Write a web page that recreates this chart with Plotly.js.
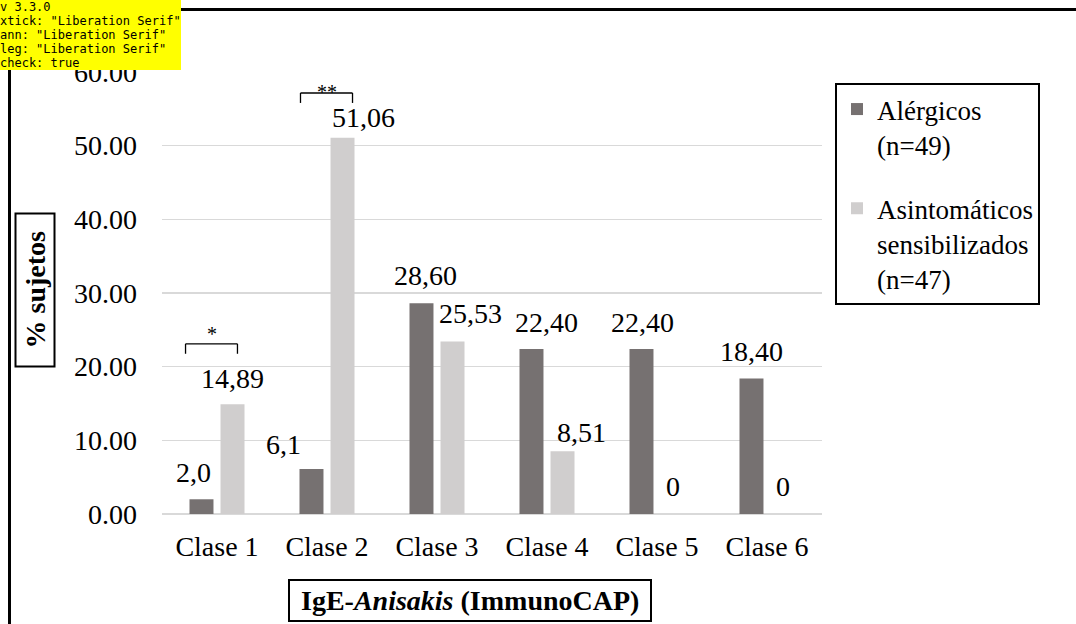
<!DOCTYPE html>
<html>
<head>
<meta charset="utf-8">
<script src="https://cdn.plot.ly/plotly-3.0.1.min.js"></script>
</head>
<body style="margin:0;background:#ffffff">
<div id="chart" style="width:1076px;height:624px"></div>
<div id="dbg" style="position:absolute;top:0;left:0;font:12px monospace;background:#ff0;white-space:pre"></div>
<script>
// ---------------- data ----------------
const categories = ['Clase 1', 'Clase 2', 'Clase 3', 'Clase 4', 'Clase 5', 'Clase 6'];
const seriesNames = ['Alérgicos<br>(n=49)', 'Asintomáticos<br>sensibilizados<br>(n=47)'];
const alergicos = [2.0, 6.1, 28.6, 22.4, 22.4, 18.4];
const asintomaticos = [14.89, 51.06, 23.4, 8.51, 0, 0];
const alergicosLabels = ['2,0', '6,1', '28,60', '22,40', '22,40', '18,40'];
const asintomaticosLabels = ['14,89', '51,06', '25,53', '8,51', '0', '0'];
const yTickVals = [0, 10, 20, 30, 40, 50, 60];
const sigCategories = ['Clase 1', 'Clase 2'];
const sigMarks = ['*', '**'];
const sigLevels = [23.1, 57.15];

const W = 1076, H = 624;
const M = { l: 162, r: 254, t: 72, b: 110 };
const PW = W - M.l - M.r, PH = H - M.t - M.b;
const FONT = 'Liberation Serif';
const DARK = '#767171', LIGHT = '#d0cece';
const barW = 0.218;
const darkOff = -0.25, lightOff = 0.032;
const darkCenter = darkOff + barW / 2, lightCenter = lightOff + barW / 2;
const darkLabelDx = [-8, -28, 4, 15, 1, 0];
const lightLabelDx = [0, 21, 18, 19, 0, 0];
const darkLabelDy = [27, 25, 28, 26, 26, 27];
const lightLabelDy = [26, 20, 28, 19, 28, 28];
const sigSpan = [[-0.286, 0.186], [-0.241, 0.232]];
const sigLeg = 1.35;
const sigTextDy = [10, 1];

const px2x = p => (p - M.l) / PW;
const px2y = p => (H - M.b - p) / PH;

const traces = [
  { type: 'bar', name: seriesNames[0], x: categories, y: alergicos, width: barW, offset: darkOff,
    marker: { color: DARK }, legendgroup: 'a' },
  { type: 'bar', name: seriesNames[1], x: categories, y: asintomaticos, width: barW, offset: lightOff,
    marker: { color: LIGHT }, legendgroup: 'b' }
];

const annotations = [];
categories.forEach((c, i) => {
  annotations.push({ x: i + darkCenter, y: alergicos[i], xref: 'x', yref: 'y', text: alergicosLabels[i],
    showarrow: false, xanchor: 'center', yanchor: 'middle', xshift: darkLabelDx[i], yshift: darkLabelDy[i],
    font: { family: FONT, size: 28, color: '#000' } });
  annotations.push({ x: i + lightCenter, y: asintomaticos[i], xref: 'x', yref: 'y', text: asintomaticosLabels[i],
    showarrow: false, xanchor: 'center', yanchor: 'middle', xshift: lightLabelDx[i], yshift: lightLabelDy[i],
    font: { family: FONT, size: 28, color: '#000' } });
});

const shapes = [];
sigCategories.forEach((c, k) => {
  const i = categories.indexOf(c);
  const x0 = i + sigSpan[k][0], x1 = i + sigSpan[k][1], y = sigLevels[k];
  const line = { color: '#000', width: 1.3 };
  shapes.push({ type: 'line', xref: 'x', yref: 'y', x0: x0, x1: x1, y0: y, y1: y, line: line });
  shapes.push({ type: 'line', xref: 'x', yref: 'y', x0: x0, x1: x0, y0: y, y1: y - sigLeg, line: line });
  shapes.push({ type: 'line', xref: 'x', yref: 'y', x0: x1, x1: x1, y0: y, y1: y - sigLeg, line: line });
  annotations.push({ x: (x0 + x1) / 2, y: y, xref: 'x', yref: 'y', text: sigMarks[k], showarrow: false,
    xanchor: 'center', yanchor: 'middle', yshift: sigTextDy[k], font: { family: FONT, size: 20, color: '#000' } });
});

shapes.push({ type: 'rect', xref: 'paper', yref: 'paper', layer: 'above',
  x0: px2x(9.5), x1: px2x(1090), y0: px2y(640), y1: px2y(9.5),
  line: { color: '#000', width: 3 }, fillcolor: 'rgba(0,0,0,0)' });

annotations.push({ xref: 'paper', yref: 'paper', x: px2x(35), y: px2y(290.5),
  text: '<b>\u00a0\u00a0% sujetos\u00a0\u00a0</b>', textangle: -90, showarrow: false,
  xanchor: 'center', yanchor: 'middle', bordercolor: '#000', borderwidth: 2, borderpad: 3,
  font: { family: FONT, size: 28, color: '#000' } });
annotations.push({ xref: 'paper', yref: 'paper', x: px2x(470), y: px2y(600),
  text: '<b>\u00a0IgE-<i>Anisakis</i> (ImmunoCAP)\u00a0</b>', showarrow: false,
  xanchor: 'center', yanchor: 'middle', bordercolor: '#000', borderwidth: 2, borderpad: 4,
  font: { family: FONT, size: 28, color: '#000' } });

const layout = {
  width: W, height: H, margin: M,
  paper_bgcolor: '#ffffff', plot_bgcolor: '#ffffff',
  font: { family: FONT, size: 28, color: '#000' },
  barmode: 'overlay', showlegend: true,
  legend: { x: px2x(835), y: px2y(83), xanchor: 'left', yanchor: 'top',
    bordercolor: '#000', borderwidth: 2, bgcolor: '#fff',
    font: { family: FONT, size: 27, color: '#000' }, tracegroupgap: 26, traceorder: 'grouped', valign: 'top' },
  xaxis: { type: 'category', categoryorder: 'array', categoryarray: categories,
    range: [-0.5, categories.length - 0.5], showgrid: false, zeroline: false, showline: false, ticks: '',
    ticklabelstandoff: 13, tickfont: { family: FONT, size: 28, color: '#000' }, fixedrange: true },
  yaxis: { range: [0, 60], tickvals: yTickVals, tickformat: '.2f',
    showgrid: true, gridcolor: '#d9d9d9', gridwidth: 1.5,
    zeroline: true, zerolinecolor: '#d9d9d9', zerolinewidth: 1.5,
    showline: false, ticks: '', ticklabelstandoff: 24,
    tickfont: { family: FONT, size: 28, color: '#000' }, fixedrange: true },
  shapes: shapes, annotations: annotations
};

Plotly.newPlot('chart', traces, layout, { displayModeBar: false, staticPlot: true }).then(() => {
  const t = document.querySelector('.xtick text');
  const a = document.querySelector('.annotation-text');
  const l = document.querySelector('.legendtext');
  document.getElementById('dbg').textContent = 'v ' + Plotly.version +
    '\nxtick: ' + (t ? getComputedStyle(t).fontFamily : 'none') +
    '\nann: ' + (a ? getComputedStyle(a).fontFamily : 'none') +
    '\nleg: ' + (l ? getComputedStyle(l).fontFamily : 'none') +
    '\ncheck: ' + document.fonts.check('28px "Liberation Serif"');
}).catch(e => { document.getElementById('dbg').textContent = 'ERR ' + e; });
</script>
</body>
</html>
